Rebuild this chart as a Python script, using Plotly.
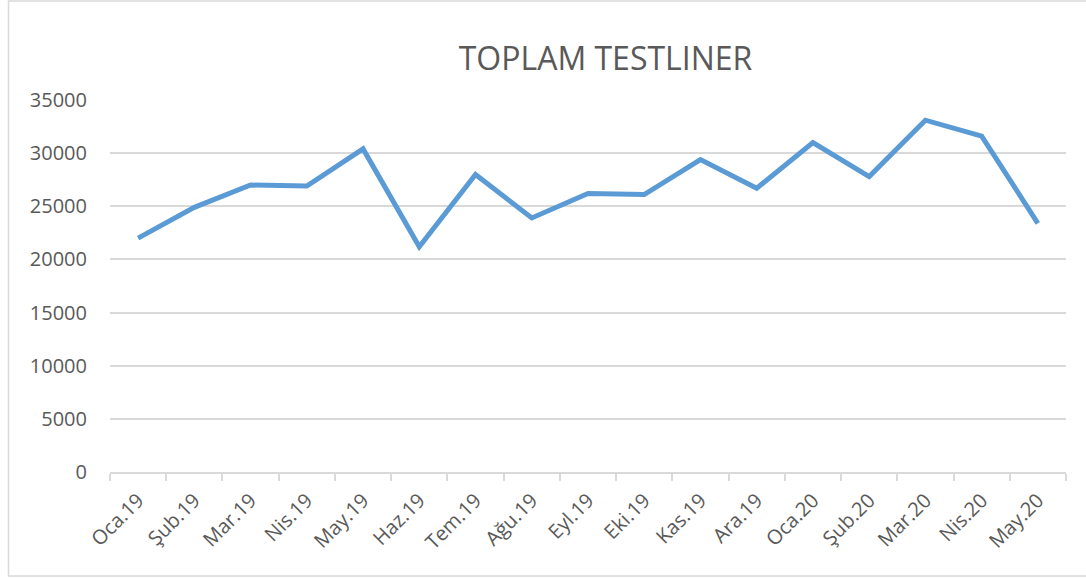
import plotly.graph_objects as go

categories = ["Oca.19", "Şub.19", "Mar.19", "Nis.19", "May.19", "Haz.19", "Tem.19", "Ağu.19",
              "Eyl.19", "Eki.19", "Kas.19", "Ara.19", "Oca.20", "Şub.20", "Mar.20", "Nis.20", "May.20"]
values = [22000, 24900, 27000, 26900, 30400, 21200, 28000, 23900,
          26200, 26100, 29400, 26700, 31000, 27800, 33100, 31600, 23400]
y_ticks = [0, 5000, 10000, 15000, 20000, 25000, 30000, 35000]
title_text = "TOPLAM TESTLINER"

W, H = 1086, 579
L, R, T, B = 110, 20, 100, 107
pw, ph = W - L - R, H - T - B

font_family = "Open Sans, Noto Sans, sans-serif"
grey = "#595959"

fig = go.Figure()
fig.add_trace(go.Scatter(
    x=categories, y=values, mode="lines",
    line=dict(color="#5B9BD5", width=5),
    hoverinfo="x+y",
))

fig.update_layout(
    width=W, height=H,
    margin=dict(l=L, r=R, t=T, b=B),
    paper_bgcolor="white", plot_bgcolor="white",
    showlegend=False,
    title=dict(text=title_text, x=(605.5 - L) / pw, xref="paper", xanchor="center",
               y=1 - 59 / H, yref="container", yanchor="middle",
               font=dict(family=font_family, size=32, color=grey)),
    xaxis=dict(type="category", showgrid=False, showline=True, linecolor="#d9d9d9", linewidth=1.5,
               ticks="outside", tickson="boundaries", ticklen=7, tickcolor="#d9d9d9", tickwidth=1.5,
               tickangle=-45, ticklabelstandoff=7,
               tickfont=dict(family=font_family, size=20, color=grey),
               range=[-0.5, len(categories) - 0.5], fixedrange=True),
    yaxis=dict(range=[0, 35000], tickvals=y_ticks, ticktext=[str(v) for v in y_ticks],
               showgrid=True, gridcolor="#d9d9d9", gridwidth=1.5, zeroline=False,
               showline=False, ticks="", ticklabelstandoff=22,
               tickfont=dict(family=font_family, size=20, color=grey), fixedrange=True),
)

fig.add_shape(type="rect", xref="paper", yref="paper",
              x0=(8.5 - L) / pw, x1=(1100 - L) / pw,
              y0=(H - B - 576) / ph, y1=(H - B - 1) / ph,
              line=dict(color="#d9d9d9", width=1.5), fillcolor="rgba(0,0,0,0)", layer="below")

fig.write_html("out.html", config={"displayModeBar": False},
               post_script="document.body.style.margin='0';document.body.style.overflow='hidden';")
